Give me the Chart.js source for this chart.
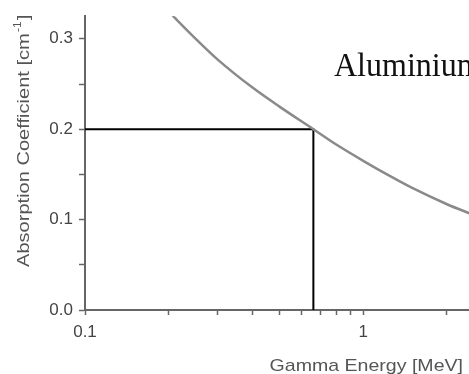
<!DOCTYPE html>
<html>
<head>
<meta charset="utf-8">
<script src="https://cdn.jsdelivr.net/npm/chart.js@4.4.1/dist/chart.umd.min.js"></script>
<style>
  body { margin: 0; background: #fff; }
</style>
</head>
<body>
<canvas id="absChart" width="469" height="374"></canvas>
<script>
// gamma energy (MeV) and absorption coefficient (1/cm)
var energy = [0.2, 0.25, 0.3, 0.4, 0.5, 0.662, 0.8, 1.0, 1.25, 1.5, 2.0, 2.5];
var absorption = [0.330, 0.300, 0.277, 0.246, 0.225, 0.200, 0.183, 0.165, 0.148, 0.135, 0.117, 0.105];

// guide lines for the Cs-137 line at 0.662 MeV
var guideX = [0.1, 0.662, 0.662];
var guideY = [0.2, 0.2, 0];

var xTicks = [0.1, 0.2, 0.3, 0.4, 0.5, 0.6, 0.7, 0.8, 0.9, 1, 2];
var xTickLabels = { 0.1: '0.1', 1: '1' };
var yTicks = [0, 0.05, 0.1, 0.15, 0.2, 0.25, 0.3];
var yTickLabels = { 0: '0.0', 0.1: '0.1', 0.2: '0.2', 0.3: '0.3' };

var xTitle = 'Gamma Energy [MeV]';
var yTitle = 'Absorption Coefficient [cm';
var materialLabel = 'Aluminium';

function toPoints(xs, ys) {
  return xs.map(function (x, i) { return { x: x, y: ys[i] }; });
}

function findLabel(map, v) {
  for (var k in map) {
    if (Math.abs(parseFloat(k) - v) < 1e-9) return map[k];
  }
  return '';
}

// titles and label drawn by hand, they are a bit stretched in the original
var textPlugin = {
  id: 'texts',
  afterDraw: function (chart) {
    var ctx = chart.ctx;

    ctx.save();
    ctx.fillStyle = '#555';
    ctx.font = '17px "Liberation Sans", Arial, sans-serif';
    ctx.textAlign = 'right';
    ctx.textBaseline = 'middle';
    ctx.translate(463, 366);
    ctx.scale(1.15, 1);
    ctx.fillText(xTitle, 0, 0);
    ctx.restore();

    ctx.save();
    ctx.fillStyle = '#555';
    ctx.translate(29, 267);
    ctx.rotate(-Math.PI / 2);
    ctx.scale(1.18, 1);
    ctx.textAlign = 'left';
    ctx.textBaseline = 'alphabetic';
    ctx.font = '17px "Liberation Sans", Arial, sans-serif';
    ctx.fillText(yTitle, 0, 0);
    var w = ctx.measureText(yTitle).width;
    ctx.font = '10px "Liberation Sans", Arial, sans-serif';
    ctx.fillText('-1', w + 1, -8);
    var w2 = ctx.measureText('-1').width;
    ctx.font = '17px "Liberation Sans", Arial, sans-serif';
    ctx.fillText(']', w + w2 + 2, 0);
    ctx.restore();

    ctx.save();
    ctx.fillStyle = '#111';
    ctx.font = '32px "Liberation Serif", "Times New Roman", serif';
    ctx.textAlign = 'left';
    ctx.textBaseline = 'alphabetic';
    ctx.translate(334, 76);
    ctx.scale(1, 1.08);
    ctx.fillText(materialLabel, 0, 0);
    ctx.restore();
  }
};

var ctx = document.getElementById('absChart').getContext('2d');
var absChart = new Chart(ctx, {
  type: 'line',
  data: {
    datasets: [{
      label: 'Aluminium',
      data: toPoints(energy, absorption),
      borderColor: '#8a8a8a',
      borderWidth: 2.5,
      pointRadius: 0,
      cubicInterpolationMode: 'monotone'
    }, {
      label: 'Aluminium (calc)',
      data: toPoints(energy, absorption),
      borderColor: '#555',
      borderWidth: 1,
      borderDash: [3, 3],
      pointRadius: 0,
      cubicInterpolationMode: 'monotone'
    }, {
      label: 'guide',
      data: toPoints(guideX, guideY),
      borderColor: '#000',
      borderWidth: 2,
      pointRadius: 0,
      tension: 0
    }]
  },
  options: {
    responsive: false,
    animation: false,
    layout: { padding: { top: 13, right: 0, left: 0, bottom: 0 } },
    plugins: {
      legend: { display: false },
      tooltip: { enabled: false }
    },
    scales: {
      x: {
        type: 'logarithmic',
        min: 0.1,
        max: 2.4,
        afterBuildTicks: function (scale) {
          scale.ticks = xTicks.map(function (v) { return { value: v }; });
        },
        afterFit: function (scale) { scale.height = 64; },
        border: { display: true, color: '#666', width: 2 },
        grid: {
          drawOnChartArea: false,
          drawTicks: true,
          tickLength: 5,
          tickWidth: 1.5,
          tickColor: '#666'
        },
        ticks: {
          autoSkip: false,
          maxRotation: 0,
          padding: 7,
          color: '#444',
          font: { family: '"Liberation Sans", Arial, sans-serif', size: 17 },
          callback: function (value) { return findLabel(xTickLabels, value); }
        }
      },
      y: {
        type: 'linear',
        min: 0,
        max: 0.325,
        afterBuildTicks: function (scale) {
          scale.ticks = yTicks.map(function (v) { return { value: v }; });
        },
        afterFit: function (scale) { scale.width = 85; },
        border: { display: true, color: '#666', width: 2 },
        grid: {
          drawOnChartArea: false,
          drawTicks: true,
          tickLength: 6,
          tickWidth: 1.5,
          tickColor: '#666'
        },
        ticks: {
          autoSkip: false,
          padding: 6,
          color: '#444',
          font: { family: '"Liberation Sans", Arial, sans-serif', size: 17 },
          callback: function (value) { return findLabel(yTickLabels, value); }
        }
      }
    }
  },
  plugins: [textPlugin]
});
</script>
</body>
</html>
